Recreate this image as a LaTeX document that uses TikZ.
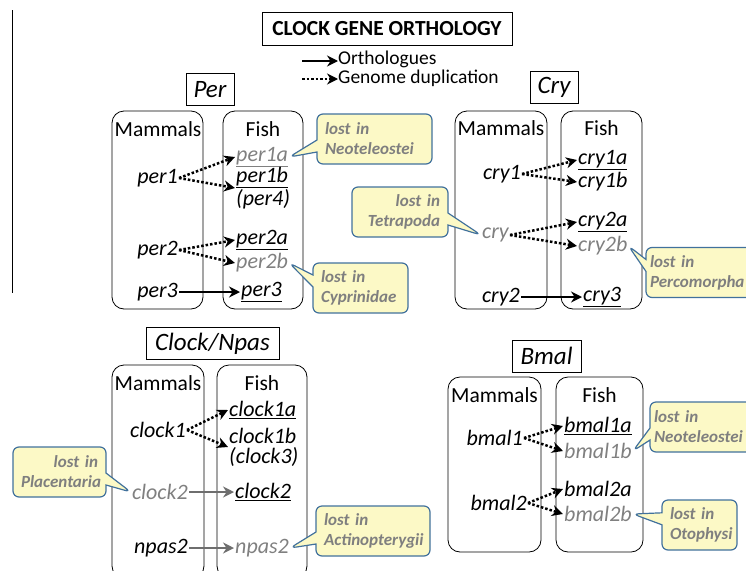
\documentclass[tikz,border=0pt]{standalone}
\usepackage{fontspec}
\setmainfont{Carlito}
\usetikzlibrary{arrows.meta,shapes.callouts}

\definecolor{lostgray}{HTML}{808080}
\definecolor{arrowgray}{HTML}{6E6E6E}
\definecolor{notefill}{HTML}{FCF9C6}
\definecolor{notedraw}{HTML}{41719C}
\definecolor{notetext}{HTML}{7F7F7F}

\newcommand{\genesize}{\fontsize{22}{20}\selectfont}
\newcommand{\headsize}{\fontsize{21.5}{21.5}\selectfont}
\newcommand{\familysize}{\fontsize{25}{25}\selectfont}
\newcommand{\legendsize}{\fontsize{19.5}{19.5}\selectfont}
\newcommand{\notesize}{\fontsize{17}{20}\selectfont}

\tikzset{
    panel/.style={draw, rounded corners=12pt, line width=0.8pt},
    head/.style={font=\headsize, inner sep=0pt},
    family/.style={draw, line width=0.8pt, font=\familysize\itshape, inner sep=0pt, minimum height=32pt},
    gene/.style={font=\genesize\itshape, inner sep=1pt, align=left},
    lostgene/.style={gene, text=lostgray},
    orth/.style={line width=2.4pt, -{Stealth[length=11pt,width=11pt]}},
    dup/.style={orth, line width=2.5pt, dash pattern=on 2.5pt off 2pt},
    orthgray/.style={orth, draw=arrowgray},
    lost/.style={rectangle callout, draw=notedraw, line width=1.2pt, fill=notefill, rounded corners=6pt,
        text=notetext, font=\notesize\bfseries\itshape, inner xsep=8pt, inner ysep=0pt,
        minimum height=50pt, callout pointer width=12pt}
}

\begin{document}
\begin{tikzpicture}[x=1pt, y=-1pt]
    \useasboundingbox (0,0) rectangle (746,570);
    \clip (0,0) rectangle (746,570);

    \draw[line width=1pt] (12,10) -- (12,293);

    % title and legend
    \node[draw, line width=1pt, font=\headsize\bfseries, minimum width=250pt, minimum height=33pt, inner sep=0pt] (title) at (387,28.5) {CLOCK GENE ORTHOLOGY};
    \coordinate (legorth) at (302,61);
    \coordinate (legdup) at (302,79);
    \node[font=\legendsize, anchor=west, inner sep=0pt] (orthtext) at (338,59.5) {Orthologues};
    \node[font=\legendsize, anchor=west, inner sep=0pt] (duptext) at (338,78.5) {Genome duplication};
    \draw[orth] (legorth) -- (orthtext.west |- legorth);
    \draw[dup] (legdup) -- (duptext.west |- legdup);

    % Per
    \node[family, minimum width=48pt] (per) at (210,89.5) {Per};
    \draw[panel] (112,111) rectangle (203,309);
    \draw[panel] (223,111) rectangle (303,309);
    \node[head] at (158,129) {Mammals};
    \node[head] at (263,129) {Fish};
    \node[gene, anchor=east] (per1) at (179,178) {per1};
    \node[gene, anchor=east] (per2) at (179,250) {per2};
    \node[gene, anchor=east] (per3) at (179,292) {per3};
    \node[lostgene, anchor=west] (per1a) at (235,157) {\underline{per1a}};
    \node[gene, anchor=west] (per1b) at (235,188) {\underline{per1b}\\(per4)};
    \node[gene, anchor=west] (per2a) at (235,240) {\underline{per2a}};
    \node[lostgene, anchor=west] (per2b) at (235,263) {per2b};
    \node[gene, anchor=west] (per3f) at (240,292) {\underline{per3}};
    \draw[dup] (per1.east) -- (per1a.west);
    \draw[dup] (per1.east) -- (per1b.west);
    \draw[dup] (per2.east) -- (per2a.west);
    \draw[dup] (per2.east) -- (per2b.west);
    \draw[orth] (per3.east) -- (per3f.west);

    % Cry
    \node[family, minimum width=48pt] (cryfam) at (554,87) {Cry};
    \draw[panel] (455,111) rectangle (547,309);
    \draw[panel] (561,111) rectangle (642,309);
    \node[head] at (501,128) {Mammals};
    \node[head] at (601.5,128) {Fish};
    \node[gene, anchor=east] (cry1) at (522,174) {cry1};
    \node[lostgene, anchor=east] (cry) at (510,235) {cry};
    \node[gene, anchor=east] (cry2) at (521,297) {cry2};
    \node[gene, anchor=west] (cry1a) at (577,160) {\underline{cry1a}};
    \node[gene, anchor=west] (cry1b) at (577,182) {cry1b};
    \node[gene, anchor=west] (cry2a) at (577,222) {\underline{cry2a}};
    \node[lostgene, anchor=west] (cry2b) at (577,246) {cry2b};
    \node[gene, anchor=west] (cry3) at (582,297) {\underline{cry3}};
    \draw[dup] (cry1.east) -- (cry1a.west);
    \draw[dup] (cry1.east) -- (cry1b.west);
    \draw[dup] (cry.east) -- (cry2a.west);
    \draw[dup] (cry.east) -- (cry2b.west);
    \draw[orth] (cry2.east) -- (cry3.west);

    % Clock/Npas
    \node[family, minimum width=133pt] (clock) at (212.5,343.5) {Clock/Npas};
    \draw[panel] (112,365) rectangle (204,578);
    \draw[panel] (217,365) rectangle (307,578);
    \node[head] at (158,383) {Mammals};
    \node[head] at (262,383) {Fish};
    \node[gene, anchor=east] (clock1) at (187,430) {clock1};
    \node[lostgene, anchor=east] (clock2) at (189,492) {clock2};
    \node[gene, anchor=east] (npas2) at (189,548) {npas2};
    \node[gene, anchor=west] (clock1a) at (228,410) {\underline{clock1a}};
    \node[gene, anchor=west] (clock1b) at (228,447) {clock1b\\(clock3)};
    \node[gene, anchor=west] (clock2f) at (234,492) {\underline{clock2}};
    \node[lostgene, anchor=west] (npas2f) at (234,548) {npas2};
    \draw[dup] (clock1.east) -- (clock1a.west);
    \draw[dup] (clock1.east) -- (clock1b.west);
    \draw[orthgray] (clock2.east) -- (clock2f.west);
    \draw[orthgray] (npas2.east) -- (npas2f.west);

    % Bmal
    \node[family, minimum width=69pt] (bmal) at (546.5,356) {Bmal};
    \draw[panel] (448,377) rectangle (541,552);
    \draw[panel] (556,377) rectangle (643,552);
    \node[head] at (494.5,395) {Mammals};
    \node[head] at (599.5,395) {Fish};
    \node[gene, anchor=east] (bmal1) at (524,438) {bmal1};
    \node[gene, anchor=east] (bmal2) at (528,503) {bmal2};
    \node[gene, anchor=west] (bmal1a) at (563,426) {\underline{bmal1a}};
    \node[lostgene, anchor=west] (bmal1b) at (563,451) {bmal1b};
    \node[gene, anchor=west] (bmal2a) at (563,489) {bmal2a};
    \node[lostgene, anchor=west] (bmal2b) at (563,514) {bmal2b};
    \draw[dup] (bmal1.east) -- (bmal1a.west);
    \draw[dup] (bmal1.east) -- (bmal1b.west);
    \draw[dup] (bmal2.east) -- (bmal2a.west);
    \draw[dup] (bmal2.east) -- (bmal2b.west);

    % losses
    \node[lost, text width=99pt, align=left, callout absolute pointer={(per1a.east)}] (lostper1a) at (374.5,139) {lost in\\Neoteleostei};
    \node[lost, text width=79pt, align=left, callout absolute pointer={(per2b.east)}] (lostper2b) at (360.5,288) {lost in\\Cyprinidae};
    \node[lost, text width=80pt, align=right, callout absolute pointer={(cry.west)}] (lostcry) at (400,212) {lost in\\Tetrapoda};
    \node[lost, inner xsep=4pt, text width=106pt, align=left, callout absolute pointer={(cry2b.east)}] (lostcry2b) at (703,272.5) {lost in\\Percomorpha};
    \node[lost, text width=77pt, align=right, callout absolute pointer={(clock2.west)}] (lostclock2) at (59.5,472) {lost in\\Placentaria};
    \node[lost, text width=98pt, align=left, callout absolute pointer={(npas2f.east)}] (lostnpas2) at (373,531) {lost in\\Actinopterygii};
    \node[lost, inner xsep=4pt, text width=106pt, align=left, callout absolute pointer={(bmal1b.east)}] (lostbmal1b) at (707,427) {lost in\\Neoteleostei};
    \node[lost, text width=59pt, align=left, callout absolute pointer={(bmal2b.east)}] (lostbmal2b) at (699.5,525) {lost in\\Otophysi};
\end{tikzpicture}
\end{document}
